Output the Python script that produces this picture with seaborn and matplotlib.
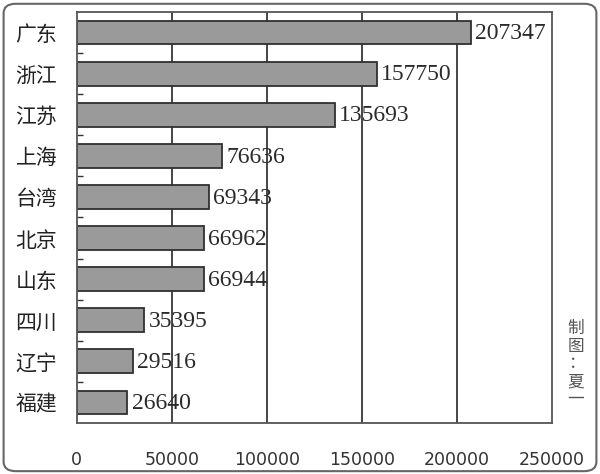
import matplotlib
matplotlib.use("Agg")
import matplotlib.pyplot as plt
import seaborn as sns
import pandas as pd
from matplotlib.patches import FancyBboxPatch
from matplotlib.ticker import FixedLocator

provinces = ["广东", "浙江", "江苏", "上海", "台湾", "北京", "山东", "四川", "辽宁", "福建"]
values = [207347, 157750, 135693, 76636, 69343, 66962, 66944, 35395, 29516, 26640]
xticks = [0, 50000, 100000, 150000, 200000, 250000]
note = "制图：夏一"

sns.set_theme(style="white")
plt.rcParams['font.family'] = ['Noto Sans CJK SC', 'DejaVu Sans']

df = pd.DataFrame({"province": provinces, "value": values})

fig = plt.figure(figsize=(6, 4.74), dpi=100)
ax = fig.add_axes([0.128, 0.1076, 0.792, 0.8671])

sns.barplot(data=df, x="value", y="province", ax=ax, color="#9a9a9a",
            saturation=1, edgecolor="#303030", linewidth=1.3, width=0.58)

ax.set_xlim(0, 250000)
ax.set_ylim(9.5, -0.5)
ax.set_xlabel("")
ax.set_ylabel("")

# gridlines at inner ticks
for v in xticks[1:-1]:
    ax.axvline(v, color="#454545", lw=1.4, zorder=0)

ax.set_xticks(xticks)
ax.set_xticklabels([str(t) for t in xticks], family="DejaVu Sans", fontsize=12.5, color="#333333")
ax.tick_params(axis="x", length=0, pad=20)
ax.tick_params(axis="y", which="major", length=0, pad=14, labelsize=15, labelcolor="#222222")
ax.yaxis.set_minor_locator(FixedLocator([i + 0.5 for i in range(9)]))
ax.tick_params(axis="y", which="minor", direction="in", length=4, width=1, color="#333333", left=True)

for s in ax.spines.values():
    s.set_color("#555555")
    s.set_linewidth(1.3)

for bar, v in zip(ax.patches, values):
    ax.text(bar.get_width() + 2300, bar.get_y() + bar.get_height() / 2 + 0.03, str(v),
            va="center", ha="left", fontsize=17, family="Liberation Serif", color="#2a2a2a")

fig.text(0.96, 0.14, "\n".join(note), ha="center", va="bottom", fontsize=12,
         color="#555555", linespacing=1.05)

frame = FancyBboxPatch((0.006, 0.006), 0.988, 0.986, boxstyle="round,pad=0,rounding_size=0.02",
                       transform=fig.transFigure, fill=False, edgecolor="#666666", lw=1.5)
fig.patches.append(frame)

fig.savefig("out.png", dpi=100)
